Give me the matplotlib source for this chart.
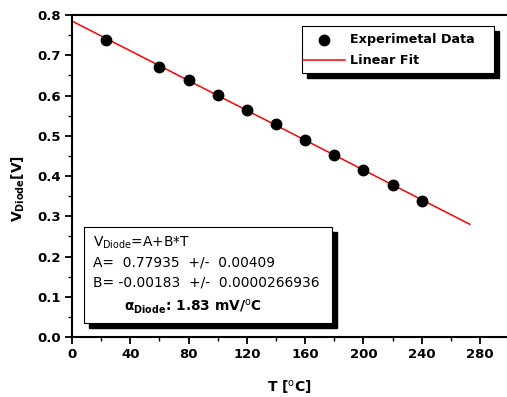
import matplotlib
matplotlib.use("Agg")
import matplotlib.pyplot as plt
from matplotlib.patches import Rectangle
from matplotlib.ticker import MultipleLocator

T = [23, 60, 80, 100, 120, 140, 160, 180, 200, 220, 240]
V = [0.739, 0.672, 0.639, 0.602, 0.565, 0.528, 0.490, 0.453, 0.415, 0.377, 0.339]
fit_T = [0, 273]
fit_V = [0.785, 0.280]
xticks = [0, 40, 80, 120, 160, 200, 240, 280]
yticks = [0.0, 0.1, 0.2, 0.3, 0.4, 0.5, 0.6, 0.7, 0.8]

plt.rcParams['font.family'] = ['DejaVu Sans']
plt.rcParams['mathtext.fontset'] = 'dejavusans'
W, H = 507, 397
fig = plt.figure(figsize=(W/100, H/100), dpi=100)
ax = fig.add_axes([72/W, (H-337)/H, 435/W, 322/H])

ax.plot(fit_T, fit_V, color='red', lw=1.1, label='Linear Fit', zorder=2)
ax.plot(T, V, 'o', color='black', ms=7.5, label='Experimetal Data', zorder=3)

ax.set_xlim(0, 298.5)
ax.set_ylim(0, 0.8)
ax.set_xticks(xticks)
ax.set_yticks(yticks)
ax.xaxis.set_minor_locator(MultipleLocator(20))
ax.yaxis.set_minor_locator(MultipleLocator(0.05))
ax.set_xticklabels([str(v) for v in xticks], fontweight='bold', fontsize=9.5)
ax.set_yticklabels([f"{v:.1f}" for v in yticks], fontweight='bold', fontsize=9.5)
ax.tick_params(which='major', direction='out', length=5, width=1.3, pad=3)
ax.tick_params(which='minor', direction='out', length=3, width=1.0)
ax.spines['right'].set_visible(False)
for s in ['left', 'bottom', 'top']:
    ax.spines[s].set_linewidth(1.5)

ax.set_xlabel('T [$^{\\mathrm{o}}$C]', fontweight='bold', fontsize=10, labelpad=12)
ax.set_ylabel('V$_{\\mathbf{Diode}}$[V]', fontweight='bold', fontsize=10)
ax.yaxis.set_label_coords(-45/435, 0.46)

def fig_rect(x0, y0, x1, y1, **kw):
    r = Rectangle((x0/W, (H-y1)/H), (x1-x0)/W, (y1-y0)/H, transform=fig.transFigure, **kw)
    fig.patches.append(r)

# legend box (pixel coords)
fig_rect(307, 31, 499, 78, facecolor='black', edgecolor='black', zorder=5)
fig_rect(302, 26, 494, 73, facecolor='white', edgecolor='black', lw=0.8, zorder=6)
fig.lines.append(plt.Line2D([324/W], [(H-40)/H], marker='o', color='black', ms=7.5,
                            transform=fig.transFigure, zorder=7))
fig.lines.append(plt.Line2D([303/W, 345/W], [(H-60)/H, (H-60)/H], color='red', lw=1.1,
                            transform=fig.transFigure, zorder=7))
fig.text(350/W, (H-40)/H, 'Experimetal Data', fontweight='bold', fontsize=9.2, va='center', zorder=8)
fig.text(350/W, (H-60)/H, 'Linear Fit', fontweight='bold', fontsize=9.2, va='center', zorder=8)

# fit text box
fig_rect(89, 232, 337, 328, facecolor='black', edgecolor='black', zorder=5)
fig_rect(84, 227, 332, 323, facecolor='white', edgecolor='black', lw=0.8, zorder=6)
fig.text(93/W, (H-243)/H, 'V$_{\\mathrm{Diode}}$=A+B*T', fontsize=9.9, va='center', zorder=8)
fig.text(93/W, (H-263)/H, 'A=  0.77935  +/-  0.00409', fontsize=9.9, va='center', zorder=8)
fig.text(93/W, (H-283)/H, 'B= -0.00183  +/-  0.0000266936', fontsize=9.9, va='center', zorder=8)
fig.text(124/W, (H-307)/H, '$\\mathbf{\\alpha}_{\\mathbf{Diode}}$: 1.83 mV/$^{\\mathrm{o}}$C',
         fontsize=9.9, fontweight='bold', va='center', zorder=8)

fig.savefig('out.png', dpi=100)
